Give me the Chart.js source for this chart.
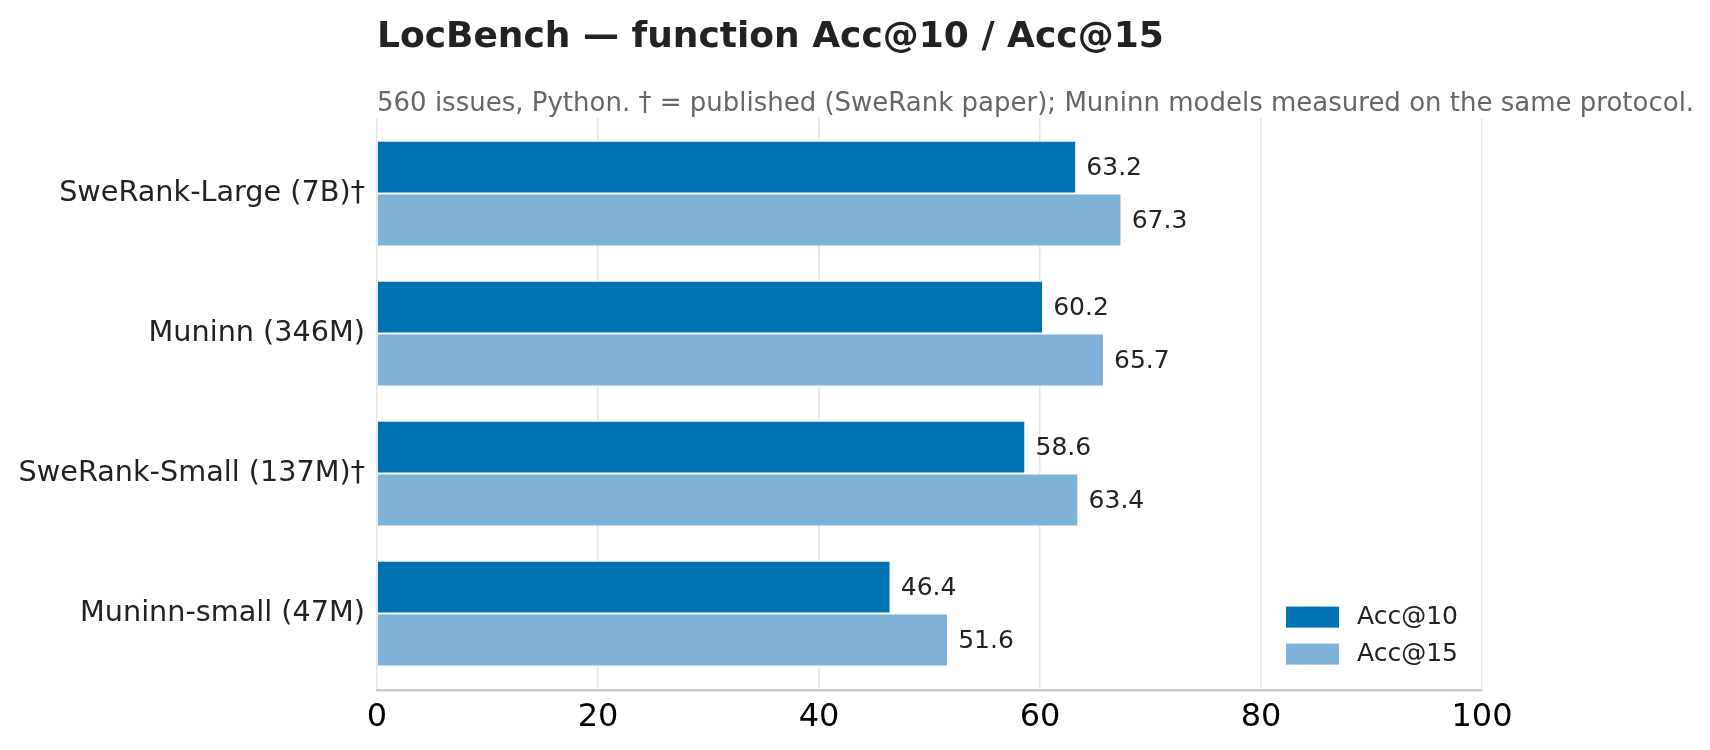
<!DOCTYPE html>
<html>
  <head>
    <title>LocBench — function Acc@10 / Acc@15</title>
    <meta charset="UTF-8">
    <style>
      body {
        margin: 0;
        background: #fff;
      }
      #wrap {
        width: 1710px;
        height: 750px;
      }
    </style>
  </head>
  <body>
    <div id="wrap">
      <canvas id="canvas" width="1710" height="750"></canvas>
    </div>
    <script src="https://cdn.jsdelivr.net/npm/chart.js@4.4.1/dist/chart.umd.min.js"></script>
    <script>
    // models, top to bottom
    var models = ['SweRank-Large (7B)†', 'Muninn (346M)', 'SweRank-Small (137M)†', 'Muninn-small (47M)'];
    var acc10 = [63.2, 60.2, 58.6, 46.4];
    var acc15 = [67.3, 65.7, 63.4, 51.6];
    var xTicks = [0, 20, 40, 60, 80, 100];

    var subtitleText = '560 issues, Python. † = published (SweRank paper); Muninn models measured on the same protocol.';

    var FONT = "'DejaVu Sans', 'Liberation Sans', sans-serif";

    // bars sit on a numeric index axis so the spacing matches the original
    function toPoints(values) {
        return values.map(function(v, i) {
            return {x: v, y: i};
        });
    }

    // value labels at the end of each bar
    var valueLabels = {
        id: 'valueLabels',
        afterDatasetsDraw: function(chart) {
            var ctx = chart.ctx;
            ctx.save();
            ctx.font = '25px ' + FONT;
            ctx.fillStyle = '#222222';
            ctx.textAlign = 'left';
            ctx.textBaseline = 'middle';
            chart.data.datasets.forEach(function(ds, di) {
                var meta = chart.getDatasetMeta(di);
                meta.data.forEach(function(bar, i) {
                    ctx.fillText(ds.data[i].x.toFixed(1), bar.x + 11, bar.y + 1);
                });
            });
            ctx.restore();
        }
    };

    // subtitle drawn by hand so it is not squeezed to the plot width
    var subtitleLine = {
        id: 'subtitleLine',
        afterDraw: function(chart) {
            var ctx = chart.ctx;
            var area = chart.chartArea;
            ctx.save();
            ctx.font = '26px ' + FONT;
            ctx.fillStyle = '#666666';
            ctx.textAlign = 'left';
            ctx.textBaseline = 'middle';
            ctx.fillText(subtitleText, area.left, area.top - 14);
            ctx.restore();
        }
    };

    // legend in the lower right corner of the plot
    var cornerLegend = {
        id: 'cornerLegend',
        afterDraw: function(chart) {
            var ctx = chart.ctx;
            var area = chart.chartArea;
            ctx.save();
            ctx.font = '25px ' + FONT;
            ctx.textAlign = 'left';
            ctx.textBaseline = 'middle';
            chart.data.datasets.forEach(function(ds, di) {
                var cy = area.bottom - 74 + di * 37;
                var hx = area.right - 196;
                ctx.fillStyle = ds.backgroundColor;
                ctx.fillRect(hx, cy - 10, 53, 21);
                ctx.fillStyle = '#222222';
                ctx.fillText(ds.label, hx + 71, cy + 1);
            });
            ctx.restore();
        }
    };

    var ctx = document.getElementById('canvas').getContext('2d');
    var chart = new Chart(ctx, {
        type: 'bar',
        data: {
            datasets: [
                {
                    label: 'Acc@10',
                    data: toPoints(acc10),
                    backgroundColor: '#0072B2',
                    borderColor: '#ffffff',
                    borderWidth: {top: 1, bottom: 1, left: 0, right: 0},
                    borderSkipped: false
                },
                {
                    label: 'Acc@15',
                    data: toPoints(acc15),
                    backgroundColor: '#7FB2D7',
                    borderColor: '#ffffff',
                    borderWidth: {top: 1, bottom: 1, left: 0, right: 0},
                    borderSkipped: false
                }
            ]
        },
        options: {
            indexAxis: 'y',
            responsive: false,
            animation: false,
            devicePixelRatio: 1,
            categoryPercentage: 0.755,
            barPercentage: 1.0,
            layout: {
                padding: {top: 16, right: 228, bottom: 5, left: 0}
            },
            scales: {
                x: {
                    type: 'linear',
                    min: 0,
                    max: 100,
                    afterBuildTicks: function(scale) {
                        scale.ticks = xTicks.map(function(v) { return {value: v}; });
                    },
                    grid: {
                        color: '#e5e5e5',
                        lineWidth: 1.5,
                        drawTicks: false
                    },
                    border: {
                        color: '#cccccc',
                        width: 2.5
                    },
                    ticks: {
                        color: '#000000',
                        padding: 8,
                        font: {family: FONT, size: 32}
                    }
                },
                y: {
                    type: 'linear',
                    reverse: true,
                    offset: false,
                    min: -0.54,
                    max: 3.55,
                    afterBuildTicks: function(scale) {
                        scale.ticks = models.map(function(m, i) { return {value: i}; });
                    },
                    afterFit: function(scale) {
                        scale.width = 377;
                    },
                    grid: {display: false, drawTicks: false},
                    border: {display: false},
                    ticks: {
                        color: '#222222',
                        padding: 12,
                        font: {family: FONT, size: 28.7},
                        callback: function(value) {
                            return models[value];
                        }
                    }
                }
            },
            plugins: {
                legend: {display: false},
                tooltip: {enabled: false},
                title: {
                    display: true,
                    text: 'LocBench — function Acc@10 / Acc@15',
                    align: 'start',
                    fullSize: false,
                    color: '#222222',
                    font: {family: FONT, size: 36, weight: 'bold', lineHeight: 1.2},
                    padding: {top: 0, bottom: 58.8}
                }
            }
        },
        plugins: [valueLabels, subtitleLine, cornerLegend]
    });
    </script>
  </body>
</html>
